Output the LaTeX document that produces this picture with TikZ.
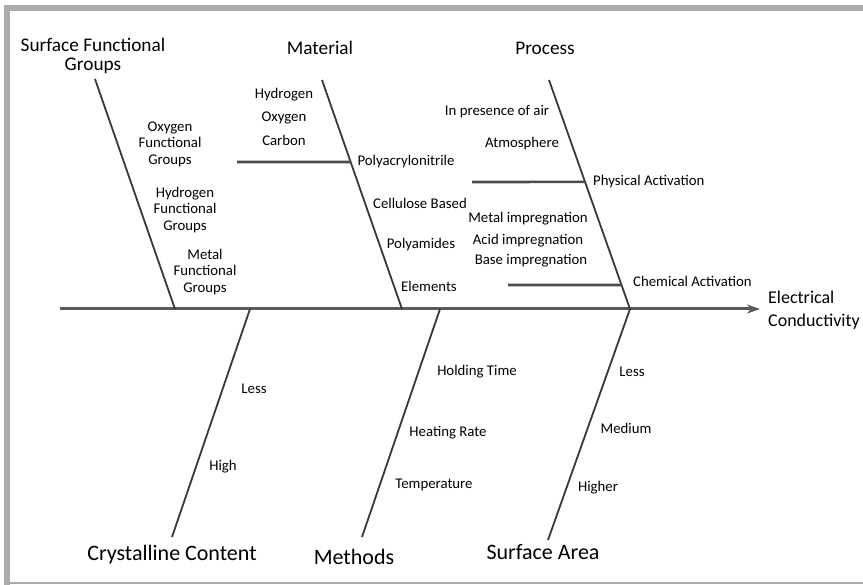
\documentclass[tikz,border=0pt]{standalone}
\usepackage{fontspec}
\setmainfont{Carlito}
\usetikzlibrary{arrows.meta,calc}
\begin{document}
\begin{tikzpicture}[x=1pt,y=-1pt,
  bone/.style={line width=1.8pt,draw=black!78},
  sub/.style={line width=2.6pt,draw=black!70},
  spine/.style={line width=3pt,draw=black!65},
  small/.style={font=\fontsize{14.8}{16}\selectfont,inner sep=0pt,align=center},
  small3/.style={font=\fontsize{14.8}{16.5}\selectfont,inner sep=0pt,align=center},
  head/.style={font=\fontsize{19.3}{19}\selectfont,inner sep=0pt,align=center},
  foot/.style={font=\fontsize{22}{24}\selectfont,inner sep=0pt},
  effect/.style={font=\fontsize{18}{23.5}\selectfont,inner sep=0pt,align=left},
  frame/.style={fill=black!33,draw=none}]
\useasboundingbox (0,0) rectangle (863,585);
% frame
\fill[frame] (4,5.5) rectangle (863,11);
\fill[frame] (4,5.5) rectangle (10,585);
\fill[frame] (4,582) rectangle (863,584);
% key points
\coordinate (sA) at (60,309);
\coordinate (sB) at (760,309);
\coordinate (t1) at (95,79);   \coordinate (b1) at (175,309);
\coordinate (t2) at (322,80);  \coordinate (b2) at (402,309);
\coordinate (t3) at (549,80);  \coordinate (b3) at (630,309);
\coordinate (l1t) at (250,309); \coordinate (l1b) at (172,537);
\coordinate (l2t) at (440,309); \coordinate (l2b) at (362,537);
\coordinate (l3t) at (630,309); \coordinate (l3b) at (548,540);
\coordinate (m0) at (237,162); \coordinate (m1) at ($(t2)!0.358!(b2)$);
\coordinate (p0) at (472,182); \coordinate (p1) at ($(t3)!0.445!(b3)$);
\coordinate (c0) at (508,285); \coordinate (c1) at ($(t3)!0.895!(b3)$);
% spine
\draw[spine,-{Stealth[length=13pt,width=9pt,inset=4pt]}] (sA) -- (sB);
% bones
\draw[bone] (t1) -- (b1);
\draw[bone] (t2) -- (b2);
\draw[bone] (t3) -- (b3);
\draw[bone] (l1t) -- (l1b);
\draw[bone] (l2t) -- (l2b);
\draw[bone] (l3t) -- (l3b);
% sub branches
\draw[sub] (m0) -- (m1);
\draw[sub] (p0) -- (p1);
\draw[sub] (c0) -- (c1);
% heads
\node[head] (hSFG) at (93,56) {Surface Functional\\Groups};
\node[head] (hMat) at (320,48) {Material};
\node[head] (hPro) at (545,48) {Process};
\node[foot] (hCC) at (172,555) {Crystalline Content};
\node[foot] (hMe) at (354,557) {Methods};
\node[foot] (hSA) at (543,552) {Surface Area};
\node[effect,anchor=west] (hEC) at (768,310) {Electrical\\Conductivity};
% surface functional groups
\node[small3] (o1) at (170,144) {Oxygen\\Functional\\Groups};
\node[small3] (o2) at (185,210) {Hydrogen\\Functional\\Groups};
\node[small3] (o3) at (205,272) {Metal\\Functional\\Groups};
% material
\node[small] (mH) at (284,95) {Hydrogen};
\node[small] (mO) at (284,118) {Oxygen};
\node[small] (mC) at (284,140) {Carbon};
\node[small] (mP) at (406,162) {Polyacrylonitrile};
\node[small] (mCB) at (420,203) {Cellulose Based};
\node[small] (mPa) at (421,245) {Polyamides};
\node[small] (mE) at (429,286) {Elements};
% process
\node[small] (pA) at (497,112) {In presence of air};
\node[small] (pAt) at (522,144) {Atmosphere};
\node[small,anchor=west] (pPA) at (593,182) {Physical Activation};
\node[small] (pM) at (528,219) {Metal impregnation};
\node[small] (pAc) at (528,241) {Acid impregnation};
\node[small] (pB) at (531,261) {Base impregnation};
\node[small,anchor=west] (pCA) at (633,281) {Chemical Activation};
% crystalline
\node[small] (cL) at (254,389) {Less};
\node[small] (cH) at (223,467) {High};
% methods
\node[small] (meH) at (477,372) {Holding Time};
\node[small] (meR) at (448,433) {Heating Rate};
\node[small] (meT) at (434,485) {Temperature};
% surface area
\node[small] (sL) at (632,372) {Less};
\node[small] (sM) at (626,428) {Medium};
\node[small] (sH) at (598,488) {Higher};
\end{tikzpicture}
\end{document}
